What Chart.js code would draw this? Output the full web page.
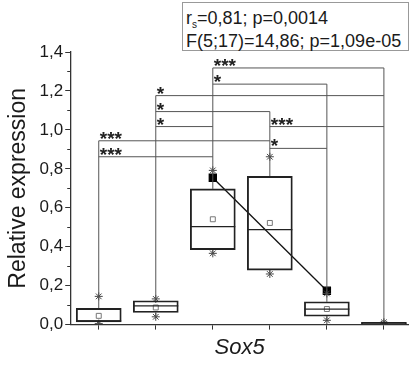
<!DOCTYPE html>
<html>
<head>
<meta charset="utf-8">
<script src="https://cdn.jsdelivr.net/npm/chart.js@4.4.0/dist/chart.umd.min.js"></script>
<style>
  html, body { margin: 0; padding: 0; background: #fff; }
  #wrap { position: relative; width: 409px; height: 365px; }
  #stats {
    position: absolute; left: 182px; top: 2px; width: 227px; height: 49px;
    box-sizing: border-box; border: 1px solid #999; padding: 4px 0 0 3px;
    font: 18px "Liberation Sans", Arial, sans-serif; line-height: 23px;
    color: #1a1a1a; white-space: nowrap; background: #fff;
  }
  #stats sub { font-size: 10px; vertical-align: -4px; line-height: 0; }
</style>
</head>
<body>
<div id="wrap">
  <canvas id="grafico" width="409" height="365"></canvas>
  <div id="stats">r<sub>s</sub>=0,81; p=0,0014<br>F(5;17)=14,86; p=1,09e-05</div>
</div>
<script>
/* ─────────────────── datos ──────────────── */
const grupos    = [1, 2, 3, 4, 5, 6];
const q1        = [0.014, 0.062, 0.385, 0.280, 0.043, 0.002];
const q3        = [0.083, 0.122, 0.697, 0.761, 0.117, 0.012];
const medianas  = [0.019, 0.096, 0.503, 0.488, 0.079, 0.007];
const medias    = [0.045, 0.088, 0.541, 0.522, 0.080, null];
const maximos   = [0.145, 0.132, 0.792, 0.862, 0.160, 0.012];
const minimos   = [0.005, 0.040, 0.366, 0.260, 0.022, 0.004];

// línea de tendencia (cuadrados negros)
const tendenciaX = [3, 5];
const tendenciaY = [0.754, 0.174];

// llaves de significancia
const llaveDesde = [1, 1, 2, 2, 2, 3, 3, 4, 4];
const llaveHasta = [3, 4, 3, 4, 6, 5, 6, 5, 6];
const llaveNivel = [0.862, 0.944, 1.017, 1.094, 1.176, 1.235, 1.318, 0.905, 1.017];
const llaveTexto = ["***", "***", "*", "*", "*", "*", "***", "*", "***"];

const yTicks     = [0, 0.2, 0.4, 0.6, 0.8, 1.0, 1.2, 1.4];
const yEtiquetas = ["0,0", "0,2", "0,4", "0,6", "0,8", "1,0", "1,2", "1,4"];
const yMenores   = [0.1, 0.3, 0.5, 0.7, 0.9, 1.1, 1.3];

const FUENTE = '"Liberation Sans", Arial, sans-serif';

/* ─────────────────── segmentos ──────────────── */
// cada grupo sube hasta la llave más alta que lo toca
const topePata = grupos.map((g, i) => {
  let tope = maximos[i];
  llaveDesde.forEach((d, k) => {
    if (d === g || llaveHasta[k] === g) tope = Math.max(tope, llaveNivel[k]);
  });
  return tope;
});

const segmentos = [];
grupos.forEach((g, i) => {
  segmentos.push({x: g, y: q3[i]}, {x: g, y: topePata[i]}, {x: g, y: null});
  segmentos.push({x: g, y: minimos[i]}, {x: g, y: q1[i]}, {x: g, y: null});
});
llaveDesde.forEach((d, k) => {
  segmentos.push({x: d, y: llaveNivel[k]}, {x: llaveHasta[k], y: llaveNivel[k]}, {x: d, y: null});
});

/* ─────────────────── plugins ──────────────── */
const etiquetasPlugin = {
  id: "etiquetas",
  afterDatasetsDraw(chart) {
    const {ctx, scales: {x, y}} = chart;
    ctx.save();
    ctx.font = "bold 19px " + FUENTE;
    ctx.fillStyle = "#222";
    ctx.textBaseline = "alphabetic";
    llaveDesde.forEach((g, k) => {
      ctx.fillText(llaveTexto[k], x.getPixelForValue(g) + 1, y.getPixelForValue(llaveNivel[k]) + 4);
    });
    ctx.restore();
  }
};

const menoresPlugin = {
  id: "menores",
  afterDraw(chart) {
    const {ctx, scales: {y}} = chart;
    ctx.save();
    ctx.strokeStyle = "#333";
    ctx.lineWidth = 1;
    yMenores.forEach(v => {
      const py = Math.round(y.getPixelForValue(v)) + 0.5;
      ctx.beginPath();
      ctx.moveTo(y.right - 3, py);
      ctx.lineTo(y.right, py);
      ctx.stroke();
    });
    ctx.restore();
  }
};

/* ─────────────────── gráfico ──────────────── */
new Chart(document.getElementById("grafico"), {
  type: "bar",
  data: {
    datasets: [
      {
        label: "cajas",
        data: grupos.map((g, i) => ({x: g, y: [q1[i], q3[i]]})),
        backgroundColor: "rgba(0,0,0,0)",
        borderColor: "#222",
        borderWidth: 1.2,
        borderSkipped: false,
        barThickness: 45
      },
      {
        type: "scatter",
        label: "llaves",
        data: segmentos,
        showLine: true,
        spanGaps: false,
        borderColor: "#555",
        borderWidth: 1,
        pointRadius: 0
      },
      {
        type: "scatter",
        label: "medianas",
        data: grupos.map((g, i) => ({x: g, y: medianas[i]})),
        pointStyle: "line",
        pointRadius: 22.5,
        borderColor: "#222",
        borderWidth: 1.2
      },
      {
        type: "scatter",
        label: "medias",
        data: grupos.map((g, i) => ({x: g, y: medias[i]})),
        pointStyle: "rect",
        pointRadius: 3.5,
        borderColor: "#777",
        backgroundColor: "#fff",
        borderWidth: 1
      },
      {
        type: "scatter",
        label: "extremos",
        data: grupos.map((g, i) => ({x: g, y: maximos[i]}))
            .concat(grupos.map((g, i) => ({x: g, y: minimos[i]}))),
        pointStyle: "star",
        pointRadius: 4,
        borderColor: "#444",
        borderWidth: 1
      },
      {
        type: "scatter",
        label: "tendencia",
        data: tendenciaX.map((x, i) => ({x: x, y: tendenciaY[i]})),
        showLine: true,
        borderColor: "#111",
        borderWidth: 1.3,
        pointStyle: "rect",
        pointRadius: 5,
        pointBackgroundColor: "#000",
        pointBorderColor: "#000"
      }
    ]
  },
  options: {
    responsive: false,
    animation: false,
    layout: { autoPadding: false, padding: { left: 5, right: 0, top: 52, bottom: 0 } },
    plugins: { legend: { display: false }, tooltip: { enabled: false } },
    scales: {
      x: {
        type: "linear",
        min: 0.5,
        max: 6.44,
        offset: false,
        afterBuildTicks: scale => { scale.ticks = grupos.map(v => ({value: v})); },
        grid: { drawOnChartArea: false, offset: false, tickLength: 5, color: "#333" },
        border: { display: true, color: "#333", width: 1.3 },
        ticks: { display: false },
        title: {
          display: true, text: "Sox5", color: "#1a1a1a",
          font: { family: FUENTE, size: 22, style: "italic" },
          padding: { top: 5, bottom: 4 }
        }
      },
      y: {
        min: 0,
        max: 1.4,
        afterBuildTicks: scale => { scale.ticks = yTicks.map(v => ({value: v})); },
        grid: { drawOnChartArea: false, tickLength: 5, color: "#333" },
        border: { display: true, color: "#333", width: 1.3 },
        ticks: {
          autoSkip: false,
          padding: 2,
          color: "#1a1a1a",
          font: { family: FUENTE, size: 17 },
          callback: (v, i) => yEtiquetas[i]
        },
        title: {
          display: true, text: "Relative expression", color: "#1a1a1a",
          font: { family: FUENTE, size: 23 },
          padding: { top: 0, bottom: 5 }
        }
      }
    }
  },
  plugins: [etiquetasPlugin, menoresPlugin]
});
</script>
</body>
</html>
